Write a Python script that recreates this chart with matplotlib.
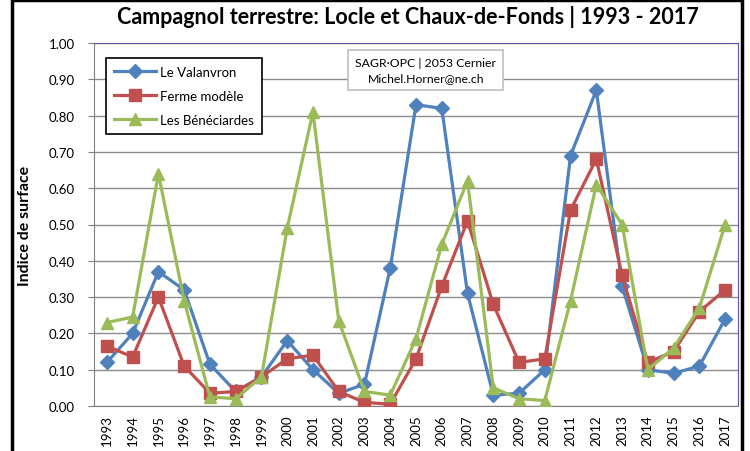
import matplotlib.pyplot as plt
import matplotlib.patches as mpatches

plt.rcParams['font.family'] = ['Lato', 'DejaVu Sans']

# Data
years = [str(y) for y in range(1993, 2018)]
valanvron = [0.12, 0.20, 0.37, 0.32, 0.115, 0.04, 0.08, 0.18, 0.10, 0.035, 0.06, 0.38, 0.83,
             0.82, 0.31, 0.03, 0.035, 0.10, 0.69, 0.87, 0.33, 0.10, 0.09, 0.11, 0.24]
ferme = [0.165, 0.135, 0.30, 0.11, 0.035, 0.04, 0.08, 0.13, 0.14, 0.04, 0.01, 0.005, 0.13,
         0.33, 0.51, 0.28, 0.12, 0.13, 0.54, 0.68, 0.36, 0.12, 0.15, 0.26, 0.32]
beneciardes = [0.23, 0.245, 0.64, 0.29, 0.025, 0.02, 0.08, 0.49, 0.81, 0.235, 0.04, 0.03, 0.185,
               0.445, 0.62, 0.05, 0.02, 0.015, 0.29, 0.61, 0.50, 0.10, 0.16, 0.27, 0.50]
yticks = [i / 10 for i in range(11)]

fig = plt.figure(figsize=(7.5, 4.52), dpi=100)
ax = fig.add_axes([94 / 750, 1 - 407 / 452, 644 / 750, 363 / 452])

x = list(range(len(years)))
ax.plot(x, valanvron, color='#4F81BD', lw=2.3, marker='D', ms=7, label='Le Valanvron', zorder=3)
ax.plot(x, ferme, color='#C0504D', lw=2.3, marker='s', ms=8, label='Ferme modèle', zorder=3)
ax.plot(x, beneciardes, color='#9BBB59', lw=2.3, marker='^', ms=9, label='Les Bénéciardes', zorder=3)

ax.set_xlim(-0.5, len(years) - 0.5)
ax.set_ylim(0, 1)
ax.set_yticks(yticks)
ax.set_yticklabels([f'{v:.2f}' for v in yticks], fontsize=9.5)
ax.set_xticks(x)
ax.set_xticklabels(years, rotation=90, fontsize=9.5)
ax.tick_params(axis='x', length=0, pad=6)
ax.tick_params(axis='y', length=4, color='#808080', pad=10)
ax.grid(axis='y', color='#8C8C8C', lw=1)
ax.set_axisbelow(True)
for s in ['left', 'bottom']:
    ax.spines[s].set_color('#808080')
for s in ['top', 'right']:
    ax.spines[s].set_color('#5A5AA8')

ax.set_ylabel('Indice de surface', fontsize=11.5, fontweight='bold', labelpad=12)
fig.text(0.544, 0.962, 'Campagnol terrestre: Locle et Chaux-de-Fonds | 1993 - 2017',
         ha='center', va='center', fontsize=15.5, fontweight='bold')

leg = ax.legend(loc='upper left', bbox_to_anchor=(0.008, 0.977), fontsize=9.5, fancybox=False,
                framealpha=1, edgecolor='black', handlelength=3.2, borderpad=0.6,
                labelspacing=0.9, handletextpad=0.3)
leg.get_frame().set_linewidth(1.2)

ax.text(0.515, 0.926, 'SAGR·OPC | 2053 Cernier\nMichel.Horner@ne.ch', transform=ax.transAxes,
        ha='center', va='center', fontsize=8.8, linespacing=1.4,
        bbox=dict(boxstyle='square,pad=0.6', fc='white', ec='#BFBFBF', lw=1.2))

# outer frame
fig.add_artist(mpatches.Rectangle((12 / 750, -0.02), 730 / 750, 1.017, transform=fig.transFigure,
                                  fill=False, ec='black', lw=2.5))

fig.savefig('out.png', dpi=100)
